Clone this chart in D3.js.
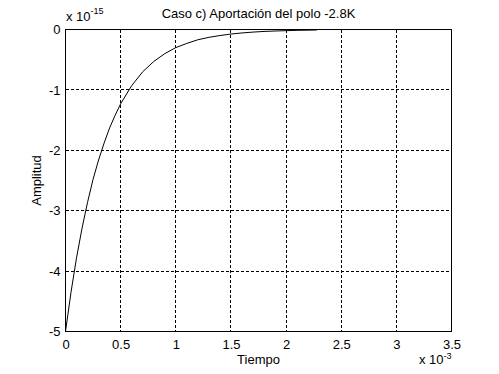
<!DOCTYPE html>
<html>
<head>
<meta charset="utf-8">
<script src="https://cdn.jsdelivr.net/npm/d3@7"></script>
<style>
  html, body { margin: 0; padding: 0; background: #fff; }
  svg { display: block; }
  text { font-family: "Liberation Sans", Arial, Helvetica, sans-serif; fill: #000; }
</style>
</head>
<body>
<svg id="chart" width="499" height="374"></svg>
<script>
// Data (time in units of 1e-3 s, amplitude in units of 1e-15)
const timeMs = [0, 0.05, 0.10, 0.15, 0.20, 0.25, 0.30, 0.35, 0.40, 0.45, 0.50,
                0.60, 0.70, 0.80, 0.90, 1.00, 1.10, 1.20, 1.30, 1.40, 1.50,
                1.60, 1.70, 1.80, 1.90, 2.00, 2.10, 2.20, 2.28];
const amplitude = [-5.00, -4.35, -3.78, -3.29, -2.86, -2.48, -2.16, -1.88, -1.63, -1.42, -1.23,
                   -0.93, -0.70, -0.53, -0.40, -0.30, -0.23, -0.17, -0.13, -0.10, -0.075,
                   -0.057, -0.043, -0.032, -0.025, -0.019, -0.014, -0.011, -0.008];
const xTicks = [0, 0.5, 1, 1.5, 2, 2.5, 3, 3.5];
const xTickLabels = ["0", "0.5", "1", "1.5", "2", "2.5", "3", "3.5"];
const yTicks = [0, -1, -2, -3, -4, -5];
const yTickLabels = ["0", "-1", "-2", "-3", "-4", "-5"];
const titleText = "Caso c) Aportación del polo -2.8K";
const xLabelText = "Tiempo";
const yLabelText = "Amplitud";
const xExponent = "-3";
const yExponent = "-15";

const svg = d3.select("#chart");
const pLeft = 65.5, pRight = 451.5, pTop = 29.5, pBottom = 331.5;
const x = d3.scaleLinear().domain([0, 3.5]).range([pLeft, pRight]);
const y = d3.scaleLinear().domain([-5, 0]).range([pBottom, pTop]);

// grid
const grid = svg.append("g").attr("stroke", "#000").attr("stroke-width", 1)
  .attr("stroke-dasharray", "3,2").attr("shape-rendering", "crispEdges");
grid.selectAll("line.vx").data(xTicks.slice(1, -1)).join("line")
  .attr("x1", d => Math.floor(x(d)) + 0.5).attr("x2", d => Math.floor(x(d)) + 0.5)
  .attr("y1", pTop).attr("y2", pBottom);
grid.selectAll("line.hy").data(yTicks.slice(1, -1)).join("line")
  .attr("y1", d => Math.floor(y(d)) + 0.5).attr("y2", d => Math.floor(y(d)) + 0.5)
  .attr("x1", pLeft).attr("x2", pRight);

// axes via d3 axis
const xAxis = d3.axisBottom(x).tickValues(xTicks).tickSize(0).tickPadding(8)
  .tickFormat((d, i) => xTickLabels[i]);
const yAxis = d3.axisLeft(y).tickValues(yTicks).tickSize(0).tickPadding(5)
  .tickFormat((d, i) => yTickLabels[i]);
const gx = svg.append("g").attr("transform", `translate(0,${pBottom})`).call(xAxis);
const gy = svg.append("g").attr("transform", `translate(${pLeft},0)`).call(yAxis);
[gx, gy].forEach(g => {
  g.select(".domain").remove();
  g.selectAll("text").attr("font-size", 13).attr("font-family", "Liberation Sans, Arial, sans-serif").attr("fill", "#000");
});

// box
svg.append("rect").attr("x", pLeft).attr("y", pTop)
  .attr("width", pRight - pLeft).attr("height", pBottom - pTop)
  .attr("fill", "none").attr("stroke", "#000").attr("stroke-width", 1)
  .attr("shape-rendering", "crispEdges");

// curve
const line = d3.line().x((d, i) => x(timeMs[i])).y(d => y(d));
svg.append("path").datum(amplitude).attr("d", line)
  .attr("fill", "none").attr("stroke", "#000").attr("stroke-width", 1);

// title
svg.append("text").attr("x", (pLeft + pRight) / 2).attr("y", 18)
  .attr("text-anchor", "middle").attr("font-size", 13).text(titleText);

// x label
svg.append("text").attr("x", (pLeft + pRight) / 2).attr("y", 364)
  .attr("text-anchor", "middle").attr("font-size", 13).text(xLabelText);

// y label
svg.append("text").attr("transform", `translate(41,${(pTop + pBottom) / 2}) rotate(-90)`)
  .attr("text-anchor", "middle").attr("font-size", 13).text(yLabelText);

// exponents
const ex = svg.append("text").attr("x", 419).attr("y", 364).attr("font-size", 13);
ex.append("tspan").text("x 10");
ex.append("tspan").attr("font-size", 9).attr("dy", -5).text(xExponent);

const ey = svg.append("text").attr("x", 66).attr("y", 21).attr("font-size", 13);
ey.append("tspan").text("x 10");
ey.append("tspan").attr("font-size", 9).attr("dy", -7).text(yExponent);
</script>
</body>
</html>
